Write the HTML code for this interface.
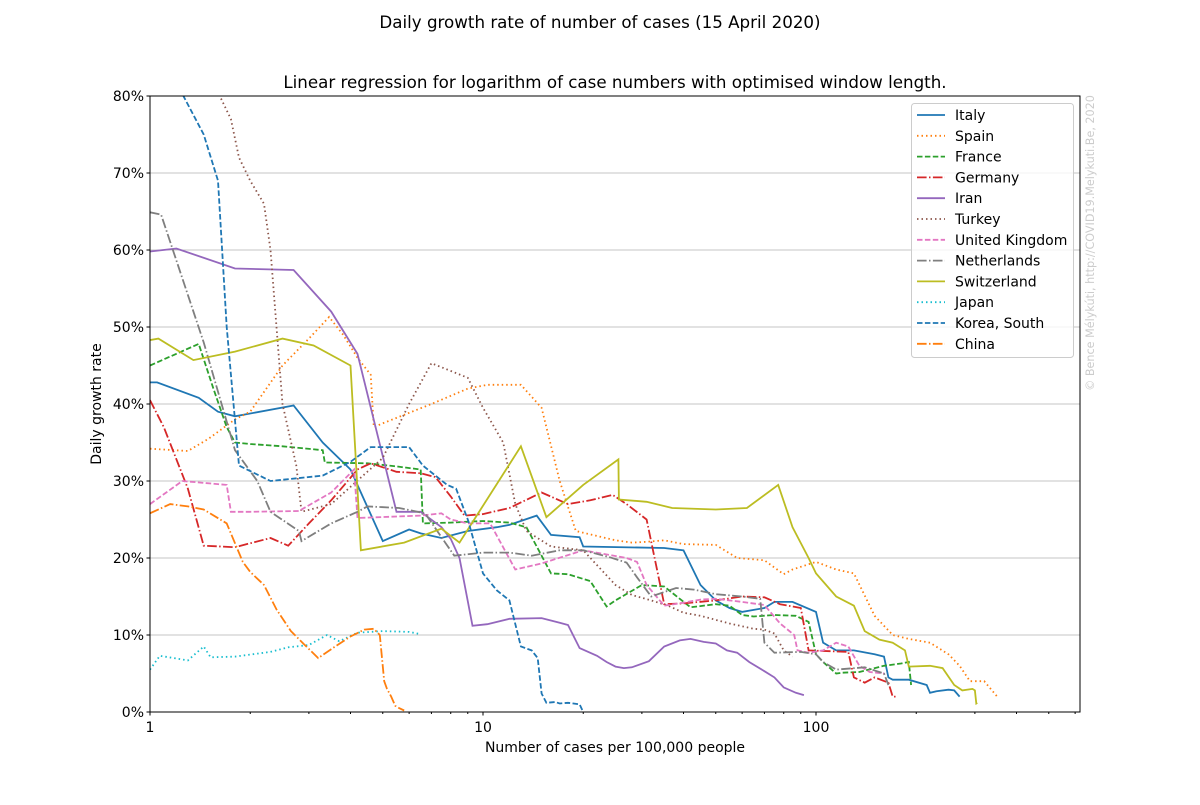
<!DOCTYPE html>
<html><head><meta charset="utf-8">
<style>
body{margin:0;background:#fff;}
svg text{font-family:"DejaVu Sans","Liberation Sans",sans-serif;fill:#000;}
</style></head>
<body>
<svg id="chart" width="1200" height="800" xmlns="http://www.w3.org/2000/svg">
<defs><clipPath id="clip"><rect x="150" y="96" width="930" height="616"/></clipPath></defs>
<rect width="1200" height="800" fill="#fff"/>
<text x="600" y="28" text-anchor="middle" font-size="16.7">Daily growth rate of number of cases (15 April 2020)</text>
<text x="615" y="88" text-anchor="middle" font-size="16.7">Linear regression for logarithm of case numbers with optimised window length.</text>
<g id="grid"></g>
<g id="series" clip-path="url(#clip)"></g>
<rect x="150" y="96" width="930" height="616" fill="none" stroke="#000" stroke-width="1"/>
<g id="axes"></g>
<text x="0" y="0" transform="translate(101,404) rotate(-90)" text-anchor="middle" font-size="14">Daily growth rate</text>
<text x="615" y="752" text-anchor="middle" font-size="14">Number of cases per 100,000 people</text>
<text x="0" y="0" transform="translate(1094,243) rotate(-90)" text-anchor="middle" font-size="11.2" style="fill:#ccc">© Bence Mélykúti, http://COVID19.Melykuti.Be, 2020</text>
<g id="legend"></g>
</svg>
<script>
const countries=["Italy","Spain","France","Germany","Iran","Turkey","United Kingdom","Netherlands","Switzerland","Japan","Korea, South","China"];
const yTicks=[0,10,20,30,40,50,60,70,80];
const xTicks=[1,10,100];
const italyX=[1,1.05,1.4,1.6,1.8,2.7,3.3,4.0,5.0,6.0,6.5,7.5,9,11,12,14.5,16,19.5,20,35,40,45,50,55,60,70,75,85,100,105,115,130,150,160,165,170,190,215,220,230,250,260,270];
const italyY=[42.8,42.8,40.8,39,38.4,39.8,35,31.5,22.2,23.7,23.2,22.6,23.5,24,24.3,25.5,23,22.7,21.5,21.3,21,16.5,14.5,13.5,13,13.5,14.3,14.3,13,9,8,8,7.5,7.2,4.5,4.2,4.2,3.5,2.5,2.7,2.9,2.8,2.0];
const spainX=[1,1.3,1.5,1.8,2,2.5,3,3.45,3.8,4.2,4.6,4.7,5,7,9,10.3,13,15,17,19,25,28,31,35,40,50,58,70,80,85,100,115,130,150,170,190,220,250,270,290,320,350];
const spainY=[34.2,33.9,35.5,38,39,45,48.5,51.3,49,46,43.8,37,37.5,40,42,42.5,42.5,39.5,30,23.5,22.3,22,22.1,22.3,21.8,21.7,20,19.7,17.9,18.5,19.5,18.5,18,12.5,10,9.5,9,7.5,6,4,4,2];
const franceX=[1,1.4,1.55,1.7,1.8,2.0,2.5,3.3,3.35,4.5,5.5,6.5,6.6,8,10,12,13.5,14.5,16,18,21,23.5,25,30,35,42,50,55,60,65,75,87,95,100,105,115,120,135,160,180,190,193];
const franceY=[45,47.8,42,37,35,34.8,34.5,34,32.4,32.3,31.9,31.5,24.5,24.6,24.8,24.6,24,21.5,18,17.9,17,13.7,14.5,16.5,16.3,13.6,14,13.8,12.6,12.4,12.6,12.5,11.7,7.5,6.5,5,5.1,5.2,6,6.3,6.5,3.5];
const germanyX=[1,1.1,1.3,1.45,1.8,2.3,2.6,3,3.5,4.2,4.6,5.5,6.5,7.2,8,8.8,10,12,15,18,21,24.5,27,31,35,40,50,60,70,78,90,95,110,125,130,140,150,165,170,175];
const germanyY=[40.5,37,29,21.6,21.4,22.6,21.6,24.5,27.5,31.5,32.3,31.2,31,30.5,28,25.5,25.7,26.5,28.5,27,27.5,28.2,27,25,14,14.1,14.5,15,14.9,14,13.5,8,7.9,7.8,4.5,3.8,4.5,3.8,2,2];
const iranX=[1,1.2,1.8,2.7,3.5,4.2,5.5,6.5,7.5,8,8.5,9.3,10.3,12,15,17,18,19.5,22,23.5,25,26.5,28,31.5,35,39,42,46,50,54,58,63,70,75,80,87,92];
const iranY=[59.8,60.2,57.6,57.4,52,46.5,26,26,24,22.5,20,11.2,11.4,12.1,12.2,11.6,11.3,8.3,7.3,6.5,5.9,5.7,5.8,6.6,8.5,9.3,9.5,9.1,8.9,8,7.7,6.5,5.3,4.5,3.2,2.5,2.2];
const turkeyX=[1.55,1.62,1.75,1.85,2.0,2.2,2.3,2.5,2.75,2.85,3.5,5,6,7,9,10,11.5,12.5,13.5,16,20,25,28,32,36,40,45,55,65,70,75,80,85];
const turkeyY=[86,80,77,72,69,66,60,40,32,26,27,33,40,45.3,43.4,39.5,35,27,23.5,21.5,21,16.5,15.2,14.5,13.8,12.9,12.5,11.5,10.8,10.7,10.2,8,7.2];
const ukX=[1,1.25,1.7,1.75,2.0,2.8,3.5,4.1,4.2,6.5,7.5,8,9,10.5,12.5,15,20,27,29,31,35,40,45,50,60,70,78,86,88,95,105,115,125,135,145,160];
const ukY=[27,30,29.5,26,26,26.1,28.5,31.5,25.2,25.5,25.8,25,24.5,24.5,18.5,19.3,21,20,19.5,16.5,13.8,14.2,14.6,14.7,14.3,13.9,11.5,10,8,7.7,8,9,8.5,6,5.2,5];
const nethX=[1,1.08,1.45,1.8,2.1,2.3,2.8,2.85,3.5,4.2,4.5,5.6,6.7,7.7,8.2,10,12,14,17,20,24,27,29,32,38,43,50,60,68,70,75,90,100,105,115,140,160,165];
const nethY=[64.9,64.6,48,34,30,26,23.5,22.2,24.5,26,26.7,26.5,25.8,22,20.3,20.7,20.7,20.3,21,21,20.1,19.4,17.5,15,16.1,15.9,15.3,15,14.7,9,7.7,7.8,7.5,6.5,5.5,5.8,5,3.5];
const swissX=[1,1.06,1.35,1.8,2.5,3.1,4.0,4.3,5.8,7.5,8.5,13,15.5,20,25.5,25.6,31,37,50,62,77,85,95,100,115,130,140,155,170,185,190,220,240,260,275,295,300,303,305];
const swissY=[48.3,48.5,45.7,46.8,48.5,47.6,45,21,22,23.8,22,34.5,25.3,29.5,32.8,27.6,27.3,26.5,26.3,26.5,29.5,24,20,18,15,13.8,10.5,9.4,9,8,5.9,6,5.7,3.5,2.8,3,2.8,1.1,1.2];
const japanX=[1,1.07,1.3,1.45,1.52,1.8,2.3,2.6,3,3.4,3.7,4.2,5,6,6.5];
const japanY=[5.5,7.3,6.7,8.5,7.1,7.2,7.8,8.4,8.7,10,9.2,10.3,10.5,10.4,10.1];
const koreaX=[1.2,1.26,1.45,1.6,1.7,1.85,2.3,3.3,4.0,4.6,6,6.6,7.8,8.3,9,10,11,12,13,14,14.6,15,15.5,16.5,17,18,19.5,20];
const koreaY=[82,80,75,69,50,32,30,30.7,32.5,34.4,34.4,32,29.5,29,25,18,15.8,14.5,8.5,8,7,2.4,1.2,1.3,1.1,1.2,1,0];
const chinaX=[1,1.15,1.3,1.45,1.7,1.9,2.0,2.2,2.4,2.65,2.9,3.2,3.6,4.0,4.4,4.7,4.9,5.05,5.15,5.3,5.45,5.6,5.8];
const chinaY=[25.8,27,26.7,26.3,24.5,19.5,18.2,16.5,13.3,10.5,8.8,7,8.5,9.8,10.7,10.8,10,4,3,2,0.8,0.5,0.2];

const seriesX=[italyX,spainX,franceX,germanyX,iranX,turkeyX,ukX,nethX,swissX,japanX,koreaX,chinaX];
const seriesY=[italyY,spainY,franceY,germanyY,iranY,turkeyY,ukY,nethY,swissY,japanY,koreaY,chinaY];
const colors=["#1f77b4","#ff7f0e","#2ca02c","#d62728","#9467bd","#8c564b","#e377c2","#7f7f7f","#bcbd22","#17becf","#1f77b4","#ff7f0e"];
const dashes=["","1.5,3","5.5,2.4","9.6,2.4,1.5,2.4","","1.5,3","5.5,2.4","9.6,2.4,1.5,2.4","","1.5,3","5.5,2.4","9.6,2.4,1.5,2.4"];

const NS="http://www.w3.org/2000/svg";
const L=150,R=1080,T=96,B=712;
function xs(v){return L+Math.log10(v)*333;}
function ys(v){return B-(v/80)*(B-T);}
function mk(tag,attrs,parent){const e=document.createElementNS(NS,tag);for(const k in attrs)e.setAttribute(k,attrs[k]);parent.appendChild(e);return e;}

const grid=document.getElementById('grid'),axes=document.getElementById('axes');
yTicks.forEach(t=>{
  const y=ys(t);
  if(t>0&&t<80){const g=mk('line',{x1:L,x2:R,y1:y,y2:y,stroke:'#b0b0b0','stroke-width':0.8},grid);
  
  }
  mk('line',{x1:L-3.5,x2:L,y1:y,y2:y,stroke:'#000'},axes);
  const tx=mk('text',{x:L-6,y:y+5,'text-anchor':'end','font-size':14},axes);
  tx.textContent=t+'%';
  
  
});
xTicks.forEach(t=>{
  const x=xs(t);
  mk('line',{x1:x,x2:x,y1:B,y2:B+3.5,stroke:'#000'},axes);
  const tx=mk('text',{x:x,y:B+20,'text-anchor':'middle','font-size':14},axes);
  tx.textContent=String(t);
  
  
  for(let m=2;m<=9;m++){const xm=xs(t*m);if(xm<R)mk('line',{x1:xm,x2:xm,y1:B,y2:B+2,stroke:'#000'},axes);}
});

const sg=document.getElementById('series');
countries.forEach((c,i)=>{
  const pts=seriesX[i].map((v,j)=>xs(v).toFixed(1)+','+ys(seriesY[i][j]).toFixed(1)).join(' ');
  const p=mk('polyline',{points:pts,fill:'none',stroke:colors[i],'stroke-width':1.8},sg);
  if(dashes[i])p.setAttribute('stroke-dasharray',dashes[i]);
  
  
});

const lg=document.getElementById('legend');
const box=mk('rect',{x:911.5,y:103.5,width:162,height:254,rx:3,fill:'#fff','fill-opacity':0.8,stroke:'#ccc'},lg);


countries.forEach((c,i)=>{
  const y=115+i*20.8;
  const ln=mk('line',{x1:917,x2:945,y1:y,y2:y,stroke:colors[i],'stroke-width':1.8},lg);
  if(dashes[i])ln.setAttribute('stroke-dasharray',dashes[i]);
  const tx=mk('text',{x:955,y:y+5,'font-size':14},lg);
  tx.textContent=c;
  
  
});
</script>
</body></html>
